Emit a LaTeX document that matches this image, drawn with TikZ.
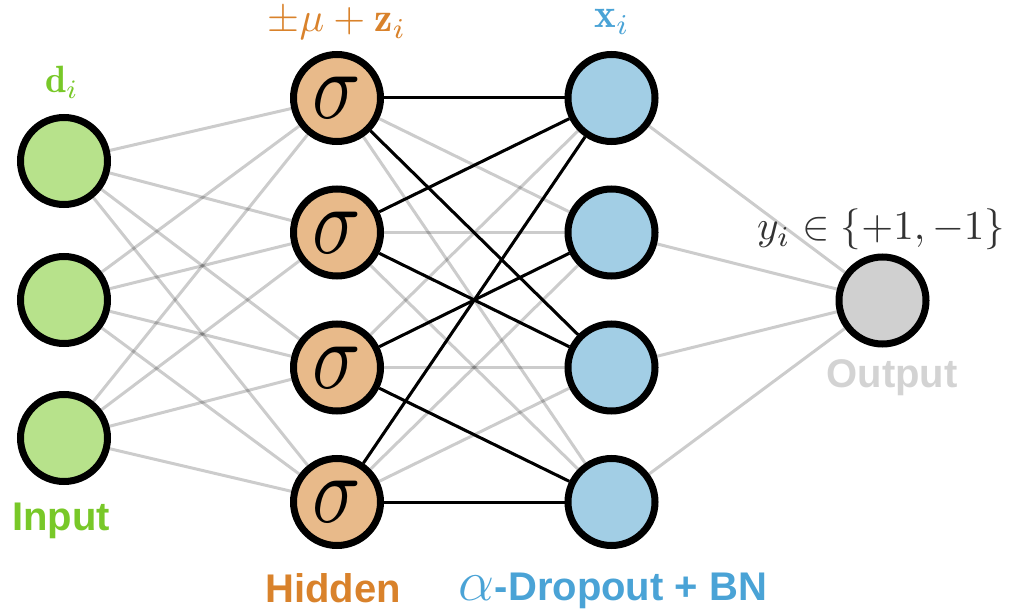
\documentclass[tikz,border=0pt]{standalone}
\usepackage{fontspec}
\usepackage{graphicx}
\usepackage{tikz}
\usetikzlibrary{backgrounds}
\newfontfamily\labelfont{Liberation Sans}
\definecolor{leaf}{HTML}{B7E28B}
\definecolor{leafdark}{HTML}{78C828}
\definecolor{peach}{HTML}{E8BA8A}
\definecolor{peachdark}{HTML}{D9822B}
\definecolor{sky}{HTML}{A2CEE5}
\definecolor{skydark}{HTML}{4AA3D6}
\definecolor{ash}{HTML}{D0D0D0}
\definecolor{ashtext}{HTML}{D3D3D3}
\newcommand{\sig}{\scalebox{8}[9.6]{$\sigma$}}
\newcommand{\labmath}[1]{\scalebox{4.1}{#1}}

\begin{document}
\begin{tikzpicture}[x=1pt,y=-1pt,
    neuron/.style={circle,draw=black,line width=7pt,minimum size=87pt,inner sep=0pt},
    weak/.style={draw=black,draw opacity=0.2,line width=3pt},
    heavy/.style={draw=black,line width=3pt},
    mathlab/.style={anchor=base},
    sanslab/.style={anchor=base,font=\labelfont\bfseries\fontsize{40}{44}\selectfont}]
  \useasboundingbox (0,0) rectangle (1011,612);
  % input layer
  \node[neuron,fill=leaf] (i1) at (64,161) {};
  \node[neuron,fill=leaf] (i2) at (64,300) {};
  \node[neuron,fill=leaf] (i3) at (64,438) {};
  % hidden layer
  \node[neuron,fill=peach] (h1) at (337,98) {\sig};
  \node[neuron,fill=peach] (h2) at (337,232.5) {\sig};
  \node[neuron,fill=peach] (h3) at (337,367.5) {\sig};
  \node[neuron,fill=peach] (h4) at (337,502) {\sig};
  % dropout layer
  \node[neuron,fill=sky] (x1) at (611.5,98) {};
  \node[neuron,fill=sky] (x2) at (611.5,232.5) {};
  \node[neuron,fill=sky] (x3) at (611.5,367.5) {};
  \node[neuron,fill=sky] (x4) at (611.5,502) {};
  % output
  \node[neuron,fill=ash] (o) at (882.5,300.5) {};

  \begin{scope}[on background layer]
    \foreach \a in {1,2,3}
      \foreach \b in {1,...,4}
        \draw[weak] (i\a) -- (h\b);
    \foreach \a in {1,...,4}
      \foreach \b in {1,...,4}
        \draw[weak] (h\a) -- (x\b);
    \foreach \b in {1,...,4}
      \draw[weak] (x\b) -- (o);
    \foreach \a/\b in {1/1,1/3,2/1,2/3,3/2,3/4,4/1,4/4}
      \draw[heavy] (h\a) -- (x\b);
  \end{scope}

  % labels
  \node[mathlab,text=leafdark] (dlab) at (62,93) {\scalebox{3.8}{$\mathbf{d}_i$}};
  \node[mathlab,text=peachdark] (zlab) at (337,32) {\labmath{$\pm\mu+\mathbf{z}_i$}};
  \node[mathlab,text=skydark] (xlab) at (612,28) {\labmath{$\mathbf{x}_i$}};
  \node[mathlab,text=black!80] (ylab) at (881,240) {\labmath{$y_i\in\{+1,-1\}$}};
  \node[sanslab,text=leafdark] (inlab) at (61,530) {Input};
  \node[sanslab,text=peachdark] (hidlab) at (333,602) {Hidden};
  \node[sanslab,text=skydark] (droplab) at (613,600) {\scalebox{2.3}{$\alpha$}-Dropout + BN};
  \node[sanslab,text=ashtext] (outlab) at (892,387) {Output};
\end{tikzpicture}
\end{document}
